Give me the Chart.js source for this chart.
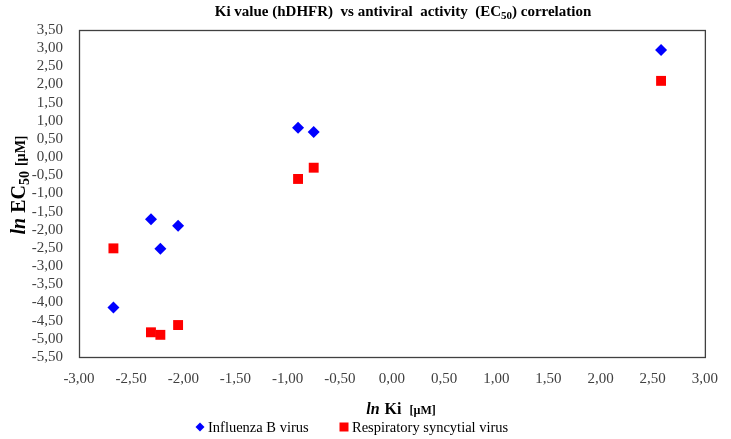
<!DOCTYPE html>
<html>
<head>
<meta charset="utf-8">
<script src="https://cdn.jsdelivr.net/npm/chart.js@4/dist/chart.umd.min.js"></script>
<style>
  html, body { margin: 0; padding: 0; background: #fff; }
</style>
</head>
<body>
<canvas id="chart" width="731" height="439"></canvas>
<script>
// ln Ki of each compound (shared x values)
const lnKi = [-2.67, -2.31, -2.22, -2.05, -0.90, -0.75, 2.58];
// ln EC50 per virus
const influenzaB = [-4.14, -1.71, -2.52, -1.89, 0.81, 0.69, 2.95];
const rsv = [-2.51, -4.82, -4.89, -4.62, -0.60, -0.29, 2.10];
const seriesNames = ["Influenza B virus", "Respiratory syncytial virus"];

const SERIF = '"Liberation Serif", "Times New Roman", serif';

function pts(ys) {
  return lnKi.map((x, i) => ({ x: x, y: ys[i] }));
}

function fmt(v) {
  return v.toFixed(2).replace(".", ",");
}

// draws a run of text pieces with their own fonts, centred on (x, y)
function drawRich(ctx, segs, x, y, rot) {
  ctx.save();
  ctx.translate(x, y);
  if (rot) ctx.rotate(rot);
  ctx.textBaseline = "alphabetic";
  ctx.textAlign = "left";
  let total = 0;
  segs.forEach(s => { ctx.font = s.font; s.w = ctx.measureText(s.t).width + (s.gap || 0); total += s.w; });
  let cx = -total / 2;
  segs.forEach(s => {
    ctx.font = s.font;
    ctx.fillStyle = s.color || "#000";
    ctx.fillText(s.t, cx + (s.gap || 0), s.dy || 0);
    cx += s.w;
  });
  ctx.restore();
}

const decor = {
  id: "decor",
  afterDraw(chart) {
    const ctx = chart.ctx;
    const a = chart.chartArea;

    // plot frame
    ctx.save();
    ctx.strokeStyle = "#404040";
    ctx.lineWidth = 1.3;
    ctx.strokeRect(a.left + 0.5, a.top + 0.5, a.right - a.left, a.bottom - a.top);
    ctx.restore();

    // title
    drawRich(ctx, [
      { t: "Ki value (hDHFR)  vs antiviral  activity  (EC", font: "bold 15px " + SERIF },
      { t: "50", font: "bold 11px " + SERIF, dy: 3 },
      { t: ") correlation", font: "bold 15px " + SERIF }
    ], 403, 16);

    // y axis title
    drawRich(ctx, [
      { t: "ln", font: "italic bold 20px " + SERIF },
      { t: "EC", font: "bold 20px " + SERIF, gap: 5 },
      { t: "50", font: "bold 14px " + SERIF, dy: 4 },
      { t: "[µM]", font: "bold 14px " + SERIF, gap: 5 }
    ], 25, 185, -Math.PI / 2);

    // x axis title
    drawRich(ctx, [
      { t: "ln", font: "italic bold 16px " + SERIF },
      { t: "Ki", font: "bold 16px " + SERIF, gap: 5 },
      { t: "[µM]", font: "bold 12px " + SERIF, gap: 8 }
    ], 401, 414);

    // legend
    const ds = chart.data.datasets;
    const items = [{ x: 200 }, { x: 344 }];
    ctx.save();
    items.forEach((it, i) => {
      const d = ds[i];
      ctx.fillStyle = d.backgroundColor;
      ctx.beginPath();
      if (d.pointStyle === "rectRot") {
        ctx.moveTo(it.x - 4.5, 427);
        ctx.lineTo(it.x, 422.5);
        ctx.lineTo(it.x + 4.5, 427);
        ctx.lineTo(it.x, 431.5);
      } else {
        ctx.rect(it.x - 4.5, 422.5, 9, 9);
      }
      ctx.closePath();
      ctx.fill();
      ctx.fillStyle = "#000";
      ctx.font = "14.5px " + SERIF;
      ctx.textBaseline = "alphabetic";
      ctx.fillText(d.label, it.x + 8, 432);
    });
    ctx.restore();
  }
};

new Chart(document.getElementById("chart"), {
  type: "scatter",
  data: {
    datasets: [
      {
        label: seriesNames[0],
        data: pts(influenzaB),
        pointStyle: "rectRot",
        pointRadius: 6,
        pointHoverRadius: 6,
        backgroundColor: "#0000FF",
        borderColor: "#0000FF",
        borderWidth: 0
      },
      {
        label: seriesNames[1],
        data: pts(rsv),
        pointStyle: "rect",
        pointRadius: 7,
        pointHoverRadius: 7,
        backgroundColor: "#FF0000",
        borderColor: "#FF0000",
        borderWidth: 0
      }
    ]
  },
  options: {
    responsive: false,
    animation: false,
    devicePixelRatio: 1,
    layout: { padding: { top: 30, right: 17, bottom: 52, left: 0 } },
    plugins: {
      legend: { display: false },
      title: { display: false },
      tooltip: { enabled: false }
    },
    scales: {
      x: {
        type: "linear",
        min: -3,
        max: 3,
        grid: { display: false, drawTicks: false },
        border: { display: false },
        ticks: {
          stepSize: 0.5,
          autoSkip: false,
          maxRotation: 0,
          padding: 13,
          color: "#404040",
          font: { family: SERIF, size: 15 },
          callback: v => fmt(v)
        },
        afterFit(s) { s.height = 30; }
      },
      y: {
        type: "linear",
        min: -5.5,
        max: 3.5,
        grid: { display: false, drawTicks: false },
        border: { display: false },
        ticks: {
          stepSize: 0.5,
          autoSkip: false,
          padding: 16,
          color: "#404040",
          font: { family: SERIF, size: 15 },
          callback: v => fmt(v)
        },
        afterFit(s) { s.width = 79; }
      }
    }
  },
  plugins: [decor]
});
</script>
</body>
</html>
